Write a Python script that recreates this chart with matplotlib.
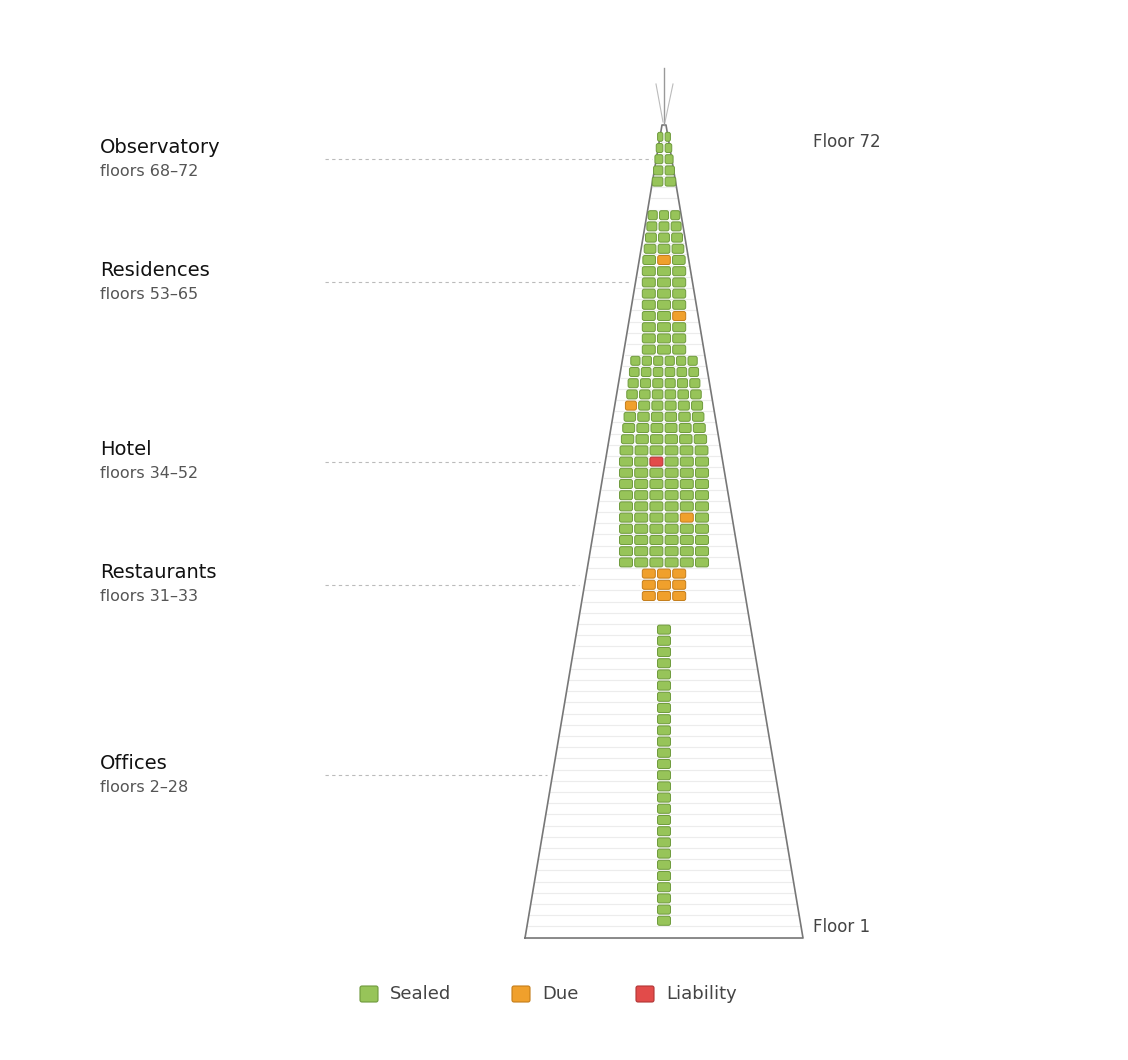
import matplotlib.pyplot as plt
from matplotlib.patches import FancyBboxPatch

# data
zones = ["Observatory", "Residences", "Hotel", "Restaurants", "Offices"]
zone_floors = [(68, 72), (53, 65), (34, 52), (31, 33), (2, 28)]
zone_cells = [2, 3, 6, 3, 1]
zone_default = ["Sealed", "Sealed", "Sealed", "Due", "Sealed"]
# exceptions: (floor, cell index, status)
exceptions = [(61, 1, "Due"), (56, 2, "Due"), (48, 0, "Due"),
              (43, 2, "Liability"), (38, 4, "Due")]
top_floor = 72

status_face = {"Sealed": "#97c459", "Due": "#f0a02c", "Liability": "#e24b4a"}
status_edge = {"Sealed": "#6e9a3c", "Due": "#c47d1a", "Liability": "#b03434"}

fig = plt.figure(figsize=(11.28, 10.60), dpi=100)
ax = fig.add_axes([0, 0, 1, 1])
ax.set_xlim(0, 1128)
ax.set_ylim(1060, 0)
ax.axis("off")

cx = 664
base_y, apex_y = 938, 125
half_base = 139
f1_y, step = 932, 11.2


def floor_y(f):
    return f1_y - (f - 1) * step


def half_width(y):
    return half_base * (y - apex_y) / (base_y - apex_y)


# floor lines
for f in range(1, top_floor + 1):
    yb = floor_y(f) + step / 2
    if yb > base_y:
        continue
    hw = half_width(yb)
    ax.plot([cx - hw, cx + hw], [yb, yb], color="#ececec", lw=0.8, zorder=1)

# outline
ax.plot([cx - half_base, cx - 2, cx + 2, cx + half_base, cx - half_base],
        [base_y, apex_y, apex_y, base_y, base_y], color="#777777", lw=1.2, zorder=3)
ax.plot([cx, cx], [68, apex_y], color="#999999", lw=1.0, zorder=3)
ax.plot([656, cx - 1], [84, apex_y - 3], color="#bbbbbb", lw=0.8, zorder=3)
ax.plot([673, cx + 1], [84, apex_y - 3], color="#bbbbbb", lw=0.8, zorder=3)

exc = {(f, i): s for f, i, s in exceptions}
gap, ch = 2.2, 9.0
for name, (lo, hi), n, default in zip(zones, zone_floors, zone_cells, zone_default):
    for f in range(lo, hi + 1):
        y = floor_y(f)
        total = 0.7 * 2 * half_width(y) + 10
        cw = min(13, (total - gap * (n - 1)) / n)
        row_w = n * cw + (n - 1) * gap
        x0 = cx - row_w / 2
        for i in range(n):
            s = exc.get((f, i), default)
            ax.add_patch(FancyBboxPatch((x0 + i * (cw + gap) + 1, y - ch / 2 + 1), cw - 2, ch - 2,
                                        boxstyle="round,pad=1,rounding_size=2",
                                        fc=status_face[s], ec=status_edge[s], lw=0.7, zorder=4))
    mid = (lo + hi) / 2
    ym = floor_y(mid)
    ax.plot([325, cx - half_width(ym) - 6], [ym, ym], color="#bbbbbb", lw=0.8,
            ls=(0, (3, 3)), zorder=2)
    ax.text(100, ym - 12, name, fontsize=14, color="#111111", va="center", ha="left")
    ax.text(100, ym + 12, f"floors {lo}\u2013{hi}", fontsize=11.5, color="#555555",
            va="center", ha="left")

ax.text(813, floor_y(top_floor) + 5, f"Floor {top_floor}", fontsize=12, color="#444444", va="center")
ax.text(813, floor_y(1) - 5, "Floor 1", fontsize=12, color="#444444", va="center")

# legend
for x, s in zip([360, 512, 636], ["Sealed", "Due", "Liability"]):
    ax.add_patch(FancyBboxPatch((x, 986), 18, 16, boxstyle="round,pad=0,rounding_size=2",
                                fc=status_face[s], ec=status_edge[s], lw=0.8))
    ax.text(x + 30, 994, s, fontsize=13, color="#444444", va="center")

fig.savefig("out.png", dpi=100)
